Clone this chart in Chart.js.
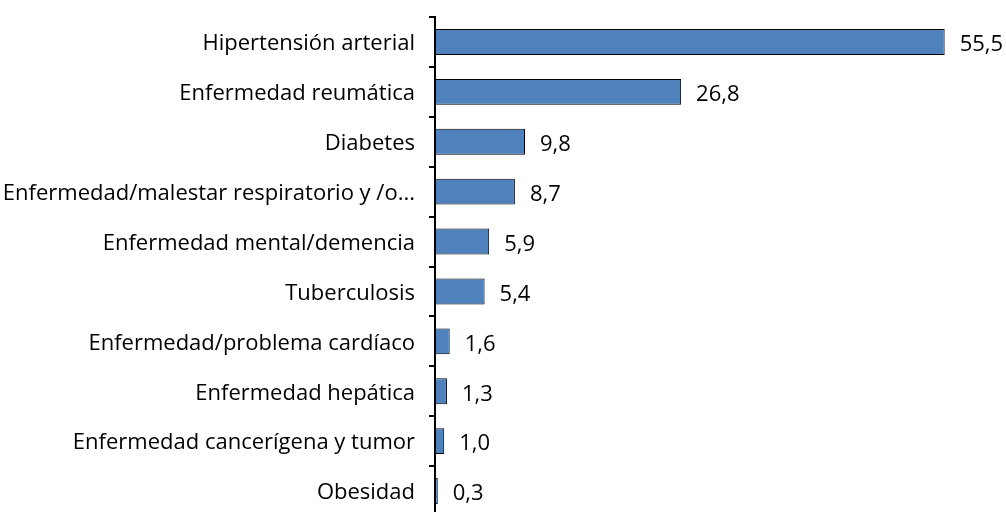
<!DOCTYPE html>
<html>
<head>
<meta charset="utf-8">
<script src="https://cdn.jsdelivr.net/npm/chart.js@4/dist/chart.umd.min.js"></script>
<style>
html,body{margin:0;padding:0;background:#fff;overflow:hidden;}
canvas{display:block;}
</style>
</head>
<body>
<canvas id="c" width="1006" height="516" style="width:1006px;height:516px;"></canvas>
<script>
const categories = [
  "Hipertensión arterial",
  "Enfermedad reumática",
  "Diabetes",
  "Enfermedad/malestar respiratorio y /o...",
  "Enfermedad mental/demencia",
  "Tuberculosis",
  "Enfermedad/problema cardíaco",
  "Enfermedad hepática",
  "Enfermedad cancerígena y tumor",
  "Obesidad"
];
const values = [55.5, 26.8, 9.8, 8.7, 5.9, 5.4, 1.6, 1.3, 1.0, 0.3];
const valueLabels = values.map(v => v.toFixed(1).replace('.', ','));

const FONT = "'Open Sans', 'Noto Sans', sans-serif";

const valuePlugin = {
  id: 'valueLabels',
  afterDatasetsDraw(chart) {
    const ctx = chart.ctx;
    const meta = chart.getDatasetMeta(0);
    ctx.save();
    ctx.font = "22px " + FONT;
    ctx.fillStyle = "#000";
    ctx.textAlign = "left";
    ctx.textBaseline = "middle";
    meta.data.forEach((bar, i) => {
      ctx.fillText(valueLabels[i], bar.x + 15, bar.y + 3);
    });
    ctx.restore();
  }
};

new Chart(document.getElementById('c'), {
  type: 'bar',
  data: {
    labels: categories,
    datasets: [{
      data: values,
      backgroundColor: '#4F81BD',
      borderColor: '#000000',
      borderWidth: 1,
      borderSkipped: false,
      barPercentage: 0.52,
      categoryPercentage: 1.0
    }]
  },
  options: {
    indexAxis: 'y',
    responsive: false,
    maintainAspectRatio: false,
    animation: false,
    devicePixelRatio: 1,
    layout: { padding: { top: 17, right: 20, bottom: 0, left: 0 } },
    plugins: { legend: { display: false }, tooltip: { enabled: false } },
    scales: {
      x: { display: false, min: 0, max: 60 },
      y: {
        afterFit(s) { s.width = 435; s.paddingTop = 0; s.paddingBottom = 0; },
        grid: { display: true, drawOnChartArea: false, drawTicks: true, tickLength: 6, color: '#000', lineWidth: 2, offset: true },
        border: { display: true, color: '#000', width: 2 },
        ticks: { color: '#000', padding: 14, labelOffset: 2, autoSkip: false, font: { family: FONT, size: 22 } }
      }
    }
  },
  plugins: [valuePlugin]
});
</script>
</body>
</html>
